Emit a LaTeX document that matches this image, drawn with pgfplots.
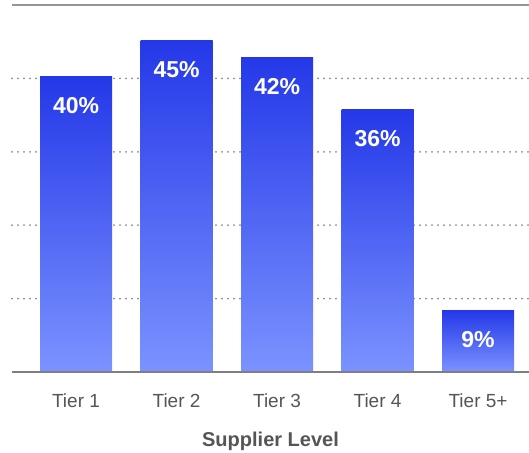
\documentclass[border=0pt]{standalone}
\usepackage{pgfplots}
\pgfplotsset{compat=1.18}
\usepackage{fontspec}
\setmainfont{Liberation Sans}
\definecolor{bartop}{HTML}{2438E8}
\definecolor{barbot}{HTML}{7B93FF}
\definecolor{axgray}{HTML}{7F7F7F}
\definecolor{gridgray}{HTML}{8A8A8A}
\definecolor{txtgray}{HTML}{555555}
\begin{document}
\begin{tikzpicture}
\begin{axis}[
  name=ax,
  scale only axis, width=517pt, height=367pt,
  xmin=-0.637, xmax=4.507, ymin=0, ymax=50,
  axis line style={draw=none},
  xtick={0,1,2,3,4},
  xticklabels={Tier 1,Tier 2,Tier 3,Tier 4,Tier 5+},
  major tick length=0pt,
  ytick={10,20,30,40}, yticklabels={},
  ymajorgrids,
  grid style={gridgray, line width=2pt, line cap=round, dash pattern=on 0pt off 6pt},
  xticklabel style={anchor=base, yshift=-35.5pt, text=txtgray, font=\fontsize{19}{19}\selectfont},
  xlabel={Supplier Level},
  xlabel style={at={(axis description cs:0.5,0)}, anchor=base, yshift=-74pt, text=txtgray, font=\bfseries\fontsize{20}{20}\selectfont},
  ybar, bar width=72pt,
  clip=false,
  every axis plot/.append style={draw=none, bar shift=0pt, top color=bartop, bottom color=barbot,
    nodes near coords, point meta=explicit symbolic,
    every node near coord/.style={anchor=base, yshift=-37pt, text=white, font=\bfseries\fontsize{23}{23}\selectfont}},
]
\addplot coordinates {(0,40.2) [40\%]};
\addplot coordinates {(1,45.2) [45\%]};
\addplot coordinates {(2,42.9) [42\%]};
\addplot coordinates {(3,35.8) [36\%]};
\addplot coordinates {(4,8.4) [9\%]};
\draw[axgray, line width=2pt] (rel axis cs:0,0) -- (rel axis cs:1,0);
\draw[gridgray!90, line width=2pt] (rel axis cs:0,1) -- (rel axis cs:1,1);
\end{axis}
\pgfresetboundingbox
\path ([xshift=-12pt, yshift=5pt]ax.north west) rectangle ([yshift=-80pt]ax.south east);
\end{tikzpicture}
\end{document}
